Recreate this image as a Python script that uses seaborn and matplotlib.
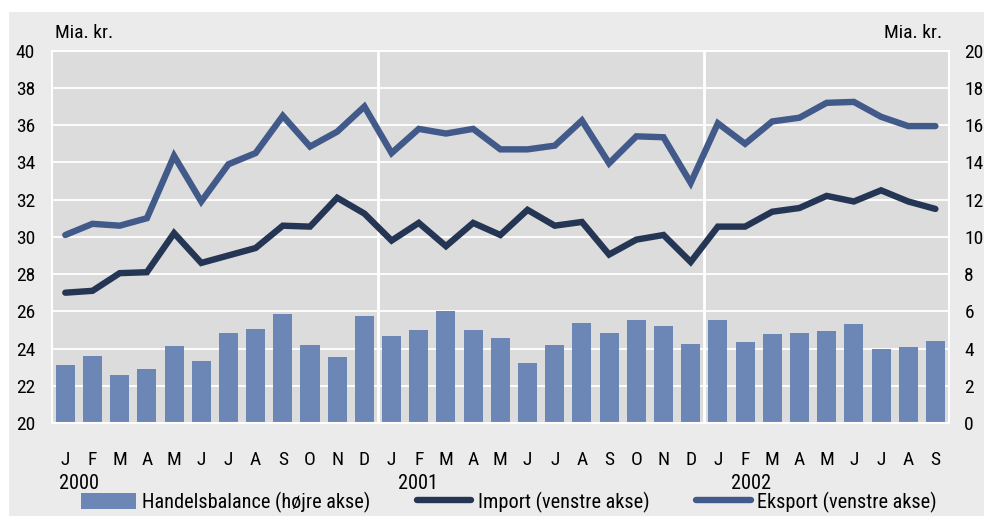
import pandas as pd
import matplotlib
matplotlib.use("Agg")
import matplotlib.pyplot as plt
import matplotlib.font_manager as fm
from matplotlib.patches import Patch, Rectangle
from matplotlib.lines import Line2D
import seaborn as sns

#monthly data jan 2000 - sep 2002 (mia. kr.)
months = list("JFMAMJJASOND") * 2 + list("JFMAMJJAS")
years = ["2000", "2001", "2002"]
eksport = [30.1, 30.7, 30.6, 31.0, 34.35, 31.9, 33.9, 34.5, 36.5, 34.85, 35.65, 37.0,
           34.5, 35.8, 35.55, 35.8, 34.7, 34.7, 34.9, 36.25, 33.95, 35.4, 35.35, 32.9,
           36.1, 35.0, 36.2, 36.4, 37.2, 37.25, 36.45, 35.95, 35.95]
importv = [27.0, 27.1, 28.05, 28.1, 30.2, 28.6, 29.0, 29.4, 30.6, 30.55, 32.1, 31.25,
           29.8, 30.75, 29.5, 30.75, 30.1, 31.45, 30.6, 30.8, 29.05, 29.85, 30.1, 28.65,
           30.55, 30.55, 31.35, 31.55, 32.2, 31.9, 32.5, 31.9, 31.5]
handelsbalance = [3.1, 3.6, 2.6, 2.9, 4.15, 3.35, 4.85, 5.05, 5.85, 4.2, 3.55, 5.75,
                  4.7, 5.0, 6.0, 5.0, 4.55, 3.25, 4.2, 5.35, 4.85, 5.55, 5.2, 4.25,
                  5.55, 4.35, 4.8, 4.85, 4.95, 5.3, 4.0, 4.1, 4.4]
legend_labels = ["Handelsbalance (højre akse)", "Import (venstre akse)", "Eksport (venstre akse)"]

df = pd.DataFrame({"idx": range(len(months)), "eksport": eksport,
                   "import": importv, "balance": handelsbalance})

#pick a narrow font if one is installed
names = {f.name for f in fm.fontManager.ttflist}
font, scale = "Noto Sans", 0.82
for cand in ["Liberation Sans Narrow", "Roboto Condensed", "Open Sans Condensed", "Noto Sans Condensed"]:
    if cand in names:
        font, scale = cand, 1.0
        break
plt.rcParams["font.family"] = [font, "DejaVu Sans"]
tick_fs = 14 * scale
leg_fs = 14.6 * scale

bar_col = "#6c87b6"
exp_col = "#415a8a"
imp_col = "#253654"

fig = plt.figure(figsize=(9.84, 5.16), dpi=100, facecolor="white")
fig.patches.append(Rectangle((9 / 984, 0), 1, (516 - 12) / 516, transform=fig.transFigure,
                             facecolor="#ebebeb", edgecolor="none", zorder=-10))

ax = fig.add_axes([51.7 / 984, 93 / 516, (949 - 51.7) / 984, (423 - 50.7) / 516])
ax.set_facecolor("#dcdcdc")
ax2 = ax.twinx()

#bars on the right axis (drawn on the base axes)
sns.barplot(data=df, x="idx", y="balance", ax=ax, color=bar_col, width=0.7,
            errorbar=None, saturation=1, zorder=2)
ax.set_ylim(0, 20)
ax.set_yticks(range(0, 21, 2))
ax.yaxis.tick_right()
ax.yaxis.grid(True, color="white", linewidth=1.3)
ax.set_axisbelow(True)
for xv in [11.5, 23.5]:
    ax.axvline(xv, color="white", linewidth=2, zorder=0.6)

#lines on the left axis
sns.lineplot(data=df, x="idx", y="import", ax=ax2, color=imp_col, linewidth=4.6,
             solid_capstyle="round", solid_joinstyle="miter")
sns.lineplot(data=df, x="idx", y="eksport", ax=ax2, color=exp_col, linewidth=4.6,
             solid_capstyle="round", solid_joinstyle="miter")
ax2.set_ylim(20, 40)
ax2.set_yticks(range(20, 41, 2))
ax2.yaxis.tick_left()

ax.set_xlim(-0.5, 32.5)
ax.set_xticks(range(len(months)))
ax.set_xticklabels(months)
for a in (ax, ax2):
    a.set_xlabel("")
    a.set_ylabel("")
    a.tick_params(length=0, labelsize=tick_fs, colors="black")
ax.tick_params(axis="x", pad=20)
ax.tick_params(axis="y", pad=11)
ax2.tick_params(axis="y", pad=12)
for s in ax.spines.values():
    s.set_color("white")
    s.set_linewidth(1.5)
for s in ax2.spines.values():
    s.set_visible(False)

#year labels under january
year_x = [-0.24, 12.23, 24.48]
for xv, yr in zip(year_x, years):
    ax.text(xv, -0.162, yr, transform=ax.get_xaxis_transform(), ha="left", va="center",
            fontsize=leg_fs)

fig.text(55 / 984, (516 - 33) / 516, "Mia. kr.", ha="left", va="center", fontsize=tick_fs)
fig.text(942 / 984, (516 - 33) / 516, "Mia. kr.", ha="right", va="center", fontsize=tick_fs)

handles = [Patch(facecolor=bar_col, edgecolor="none"),
           Line2D([], [], color=imp_col, linewidth=4.6, solid_capstyle="round"),
           Line2D([], [], color=exp_col, linewidth=4.6, solid_capstyle="round")]
fig.legend(handles, legend_labels, loc="center left", bbox_to_anchor=(81 / 984, (516 - 502) / 516),
           ncol=3, frameon=False, handlelength=2.7, handleheight=0.8, handletextpad=0.3,
           columnspacing=2.3, borderpad=0, borderaxespad=0, fontsize=leg_fs)

fig.savefig("out.png", dpi=100, facecolor=fig.get_facecolor())
